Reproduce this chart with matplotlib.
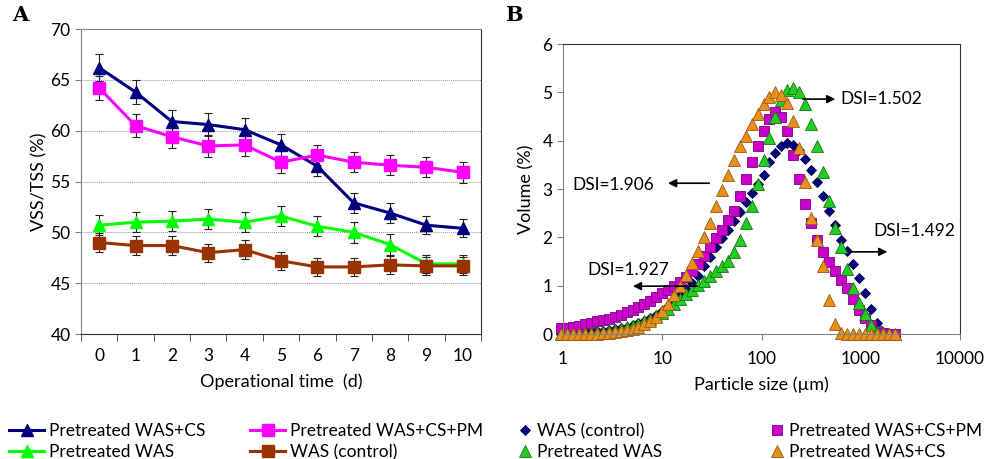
import numpy as np
import matplotlib.pyplot as plt

plt.rcParams['font.family'] = ['Lato', 'DejaVu Sans']

# ---- panel A data: VSS/TSS over operational time
days = list(range(11))
was_cs = [66.2, 63.8, 60.9, 60.6, 60.1, 58.6, 56.5, 52.9, 51.9, 50.7, 50.4]
was_cs_pm = [64.2, 60.5, 59.4, 58.5, 58.6, 56.9, 57.6, 56.9, 56.6, 56.4, 55.9]
was_pre = [50.7, 51.0, 51.1, 51.3, 51.0, 51.6, 50.6, 50.0, 48.8, 46.9, 46.9]
was_ctrl = [49.0, 48.7, 48.7, 48.0, 48.3, 47.2, 46.6, 46.6, 46.8, 46.7, 46.7]
err_cs = [1.3, 1.2, 1.1, 1.1, 1.1, 1.1, 1.0, 1.0, 1.0, 0.9, 0.9]
err_cs_pm = [1.2, 1.1, 1.1, 1.1, 1.1, 1.1, 1.0, 1.0, 1.0, 1.0, 1.0]
err_pre = [1.0, 1.0, 1.0, 1.0, 1.0, 1.0, 1.0, 1.0, 1.0, 0.9, 0.9]
err_ctrl = [0.9, 0.9, 0.9, 0.9, 0.9, 0.9, 0.9, 0.9, 0.9, 0.9, 0.9]

# ---- panel B data: particle size distribution
size_um = [0.955, 1.096, 1.259, 1.445, 1.66, 1.905, 2.188, 2.512, 2.884, 3.311,
           3.802, 4.365, 5.012, 5.754, 6.607, 7.586, 8.71, 10.0, 11.48, 13.18,
           15.14, 17.38, 19.95, 22.91, 26.3, 30.2, 34.67, 39.81, 45.71, 52.48,
           60.26, 69.18, 79.43, 91.2, 104.7, 120.2, 138.0, 158.5, 182.0, 208.9,
           239.9, 275.4, 316.2, 363.1, 416.9, 478.6, 549.5, 631.0, 724.4, 831.8,
           955.0, 1096, 1259, 1445, 1660, 1905, 2188]
vol_ctrl = [0.0, 0.01, 0.02, 0.03, 0.04, 0.05, 0.06, 0.07, 0.08, 0.1,
            0.12, 0.15, 0.18, 0.22, 0.27, 0.33, 0.4, 0.48, 0.57, 0.68,
            0.8, 0.93, 1.05, 1.2, 1.4, 1.6, 1.8, 1.98, 2.15, 2.33,
            2.52, 2.73, 2.92, 3.1, 3.3, 3.55, 3.75, 3.88, 3.95, 3.92,
            3.8, 3.62, 3.4, 3.15, 2.85, 2.55, 2.25, 1.95, 1.72, 1.45,
            1.15, 0.85, 0.52, 0.22, 0.05, 0.01, 0.0]
vol_cs_pm = [0.12, 0.13, 0.15, 0.17, 0.2, 0.23, 0.26, 0.29, 0.32, 0.36,
             0.4, 0.45, 0.5, 0.56, 0.62, 0.69, 0.77, 0.84, 0.92, 1.0,
             1.08, 1.18, 1.3, 1.45, 1.62, 1.8, 1.98, 2.15, 2.35, 2.55,
             2.85, 3.2, 3.55, 3.9, 4.2, 4.45, 4.6, 4.5, 4.2, 3.7,
             3.2, 2.7, 2.3, 1.95, 1.7, 1.5, 1.3, 1.12, 0.95, 0.72,
             0.5, 0.33, 0.18, 0.06, 0.02, 0.01, 0.0]
vol_pre = [0.0, 0.0, 0.01, 0.01, 0.02, 0.03, 0.04, 0.05, 0.07, 0.09,
           0.11, 0.14, 0.17, 0.21, 0.26, 0.31, 0.37, 0.44, 0.52, 0.62,
           0.72, 0.82, 0.92, 1.02, 1.1, 1.2, 1.3, 1.4, 1.52, 1.7,
           1.95, 2.3, 2.65, 3.1, 3.6, 4.05, 4.5, 4.85, 5.05, 5.1,
           5.0, 4.75, 4.35, 3.9, 3.35, 2.75, 2.2, 1.8, 1.35, 0.95,
           0.65, 0.42, 0.19, 0.05, 0.02, 0.01, 0.0]
vol_cs = [0.0, 0.0, 0.0, 0.0, 0.0, 0.01, 0.01, 0.02, 0.03, 0.04,
          0.06, 0.08, 0.11, 0.15, 0.2, 0.27, 0.36, 0.48, 0.63, 0.8,
          1.0, 1.22, 1.46, 1.72, 2.0, 2.3, 2.65, 2.98, 3.3, 3.6,
          3.88, 4.1, 4.35, 4.55, 4.75, 4.9, 5.0, 4.95, 4.78, 4.4,
          3.85, 3.15, 2.4, 1.95, 1.4, 0.7, 0.2, 0.02, 0.0, 0.0,
          0.0, 0.0, 0.0, 0.0, 0.0, 0.0, 0.0]

dsi_labels = ['DSI=1.502', 'DSI=1.906', 'DSI=1.492', 'DSI=1.927']

navy = '#000080'
magenta = '#ff00ff'
lime = '#00ff00'
brown = '#993300'

fig = plt.figure(figsize=(9.85, 4.59), dpi=100)

# ================= panel A
axA = fig.add_axes([0.0822, 0.2723, 0.4061, 0.6645])
seriesA = [
    (was_cs, err_cs, navy, '^', 'Pretreated WAS+CS'),
    (was_cs_pm, err_cs_pm, magenta, 's', 'Pretreated WAS+CS+PM'),
    (was_pre, err_pre, lime, '^', 'Pretreated WAS'),
    (was_ctrl, err_ctrl, brown, 's', 'WAS (control)'),
]
handlesA = {}
for vals, err, col, mk, lab in seriesA:
    axA.errorbar(days, vals, yerr=err, fmt='none', ecolor='#222222',
                 elinewidth=0.8, capsize=3, capthick=0.8, zorder=2)
    h, = axA.plot(days, vals, color=col, marker=mk, lw=2.2, ms=8.5,
                  mec=col, zorder=3, label=lab)
    handlesA[lab] = h

axA.set_xlim(-0.5, 10.5)
axA.set_ylim(40, 70)
axA.set_yticks(range(40, 71, 5))
axA.set_xticks(days)
axA.set_xticks(np.arange(-0.5, 11, 1), minor=True)
axA.tick_params(axis='x', which='major', length=0, labelsize=12.5, pad=10)
axA.tick_params(axis='x', which='minor', length=5, color='#333333')
axA.tick_params(axis='y', length=4, color='#808080', labelsize=12.5)
for y in range(45, 70, 5):
    axA.axhline(y, color='#999999', lw=0.7, ls=(0, (1, 1)), zorder=0)
for s in axA.spines.values():
    s.set_color('#808080')
axA.spines['right'].set_color('#333333')
axA.spines['bottom'].set_color('#333333')
axA.set_ylabel('VSS/TSS (%)', fontsize=13, labelpad=2)
axA.set_xlabel('Operational time  (d)', fontsize=13, labelpad=7)

fig.text(0.012, 0.955, 'A', fontsize=15, fontweight='bold', family='DejaVu Serif')

leg_kw = dict(loc='upper left', frameon=False, fontsize=12.5,
              labelspacing=0.3, borderaxespad=0, borderpad=0.3)
legA1 = fig.legend([handlesA['Pretreated WAS+CS'], handlesA['Pretreated WAS']],
                   ['Pretreated WAS+CS', 'Pretreated WAS'],
                   bbox_to_anchor=(0.004, 0.09), handlelength=2.0,
                   handletextpad=0.3, **leg_kw)
legA2 = fig.legend([handlesA['Pretreated WAS+CS+PM'], handlesA['WAS (control)']],
                   ['Pretreated WAS+CS+PM', 'WAS (control)'],
                   bbox_to_anchor=(0.249, 0.09), handlelength=2.0,
                   handletextpad=0.3, **leg_kw)

# ================= panel B
axB = fig.add_axes([0.5716, 0.2723, 0.4031, 0.6318])
seriesB = [
    (vol_ctrl, navy, '#000040', 'D', 5.5, 'WAS (control)'),
    (vol_cs_pm, '#cc00cc', '#800080', 's', 6.5, 'Pretreated WAS+CS+PM'),
    (vol_pre, '#22cc22', '#117711', '^', 8, 'Pretreated WAS'),
    (vol_cs, '#e8901e', '#9a5a10', '^', 8, 'Pretreated WAS+CS'),
]
handlesB = {}
for vals, fc, ec, mk, ms, lab in seriesB:
    h, = axB.plot(size_um, vals, ls='none', marker=mk, ms=ms, mfc=fc,
                  mec=ec, mew=0.6, clip_on=False, label=lab)
    handlesB[lab] = h

axB.set_xscale('log')
axB.set_xlim(1, 10000)
axB.set_ylim(0, 6)
axB.set_xticks([1, 10, 100, 1000, 10000])
axB.set_xticklabels(['1', '10', '100', '1000', '10000'])
axB.minorticks_off()
axB.tick_params(axis='both', length=4, color='#808080', labelsize=12.5)
axB.tick_params(axis='x', pad=8)
for s in axB.spines.values():
    s.set_color('#808080')
axB.spines['top'].set_color('#333333')
axB.spines['right'].set_color('#333333')
axB.set_ylabel('Volume (%)', fontsize=13, labelpad=6)
axB.set_xlabel('Particle size (µm)', fontsize=13, labelpad=7)

arrow = dict(arrowstyle='-|>', color='black', lw=1.2, mutation_scale=12)
axB.annotate('', xy=(590, 4.86), xytext=(244, 4.86), arrowprops=arrow)
axB.text(620, 4.86, dsi_labels[0], fontsize=12.5, va='center', ha='left', zorder=5)
axB.annotate('', xy=(10.7, 3.12), xytext=(31.7, 3.12), arrowprops=arrow)
axB.text(1.23, 3.08, dsi_labels[1], fontsize=12.5, va='center', ha='left', zorder=5)
axB.annotate('', xy=(1972, 1.70), xytext=(743, 1.70), arrowprops=arrow)
axB.text(1330, 2.13, dsi_labels[2], fontsize=12.5, va='center', ha='left', zorder=5)
axB.annotate('', xy=(4.73, 0.99), xytext=(24, 0.99), arrowprops=arrow)
axB.text(1.75, 1.32, dsi_labels[3], fontsize=12.5, va='center', ha='left', zorder=5)

fig.text(0.513, 0.955, 'B', fontsize=15, fontweight='bold', family='DejaVu Serif')

legB1 = fig.legend([handlesB['WAS (control)'], handlesB['Pretreated WAS']],
                   ['WAS (control)', 'Pretreated WAS'],
                   bbox_to_anchor=(0.521, 0.09), handlelength=0.8,
                   handletextpad=0.3, **leg_kw)
legB2 = fig.legend([handlesB['Pretreated WAS+CS+PM'], handlesB['Pretreated WAS+CS']],
                   ['Pretreated WAS+CS+PM', 'Pretreated WAS+CS'],
                   bbox_to_anchor=(0.776, 0.09), handlelength=0.8,
                   handletextpad=0.3, **leg_kw)

fig.savefig('out.png', dpi=100)
